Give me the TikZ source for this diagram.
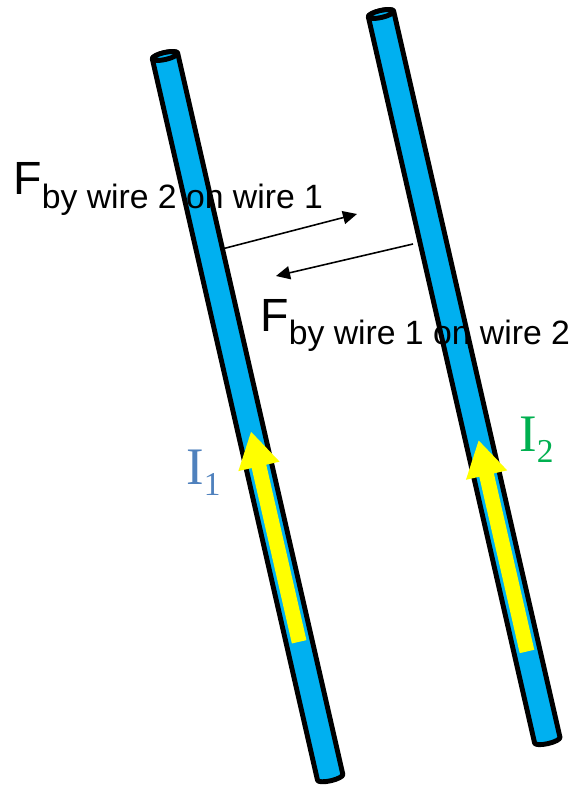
\documentclass[tikz,border=0pt]{standalone}
\usepackage{fontspec}
\setmainfont{Liberation Sans}
\newfontfamily\curfont{Liberation Serif}
\usetikzlibrary{arrows.meta,calc,positioning}
\definecolor{wireblue}{HTML}{00B0F0}
\definecolor{cureyellow}{HTML}{FFFF00}
\definecolor{ionecol}{HTML}{4F81BD}
\definecolor{itwocol}{HTML}{00B050}

\begin{document}
\begin{tikzpicture}[x=0.02cm,y=0.02cm,
    tube/.style={draw=black, fill=wireblue, line width=2.8pt, line join=round},
    current/.style={draw=cureyellow, line width=8.5pt, -{Triangle[width=22.5pt,length=20.5pt]}},
    force/.style={draw=black, line width=0.9pt, -{Triangle[width=7.5pt,length=8pt]}},
    lbl/.style={inner sep=0pt, anchor=base west}]
      % Fix the page size
      \useasboundingbox (0,0) rectangle (575,785);
      % Wire 1
      \begin{scope}[shift={(165,729)}, rotate=12.9]
        \draw[tube] (-13,0) -- (-13,-740) arc[start angle=180, end angle=360, x radius=13, y radius=3.5]
          -- (13,0) arc[start angle=0, end angle=180, x radius=13, y radius=3.5] -- cycle;
        \draw[tube] (0,0) ellipse[x radius=13, y radius=3.5];
        \coordinate (c1a) at (0,-601);
        \coordinate (c1b) at (0,-385);
      \end{scope}
      % Wire 2
      \begin{scope}[shift={(381,771)}, rotate=12.9]
        \draw[tube] (-13,0) -- (-13,-745) arc[start angle=180, end angle=360, x radius=13, y radius=3.5]
          -- (13,0) arc[start angle=0, end angle=180, x radius=13, y radius=3.5] -- cycle;
        \draw[tube] (0,0) ellipse[x radius=13, y radius=3.5];
        \coordinate (c2a) at (0,-654);
        \coordinate (c2b) at (0,-437);
      \end{scope}
      % Currents
      \draw[current] (c1a) -- (c1b);
      \draw[current] (c2a) -- (c2b);
      % Forces
      \coordinate (f21a) at (222,536);
      \coordinate (f21b) at (357,571);
      \coordinate (f12a) at (413,541);
      \coordinate (f12b) at (276,509);
      \draw[force] (f21a) -- (f21b);
      \draw[force] (f12a) -- (f12b);
      % Labels
      \node[lbl] (F21) at (13,590) {\fontsize{26.5}{30}\selectfont F\raisebox{-7.5pt}{\fontsize{19.2}{22}\selectfont by wire 2 on wire 1}};
      \node[lbl] (F12) at (260,453) {\fontsize{26.5}{30}\selectfont F\raisebox{-7pt}{\fontsize{19.2}{22}\selectfont by wire 1 on wire 2}};
      \node[lbl, text=ionecol] (I1) at (186,300) {\curfont\fontsize{30}{34}\selectfont I\raisebox{-5.7pt}{\fontsize{19}{22}\selectfont 1}};
      \node[lbl, text=itwocol] (I2) at (519,333) {\curfont\fontsize{30}{34}\selectfont I\raisebox{-5.7pt}{\fontsize{19}{22}\selectfont 2}};
\end{tikzpicture}
\end{document}
